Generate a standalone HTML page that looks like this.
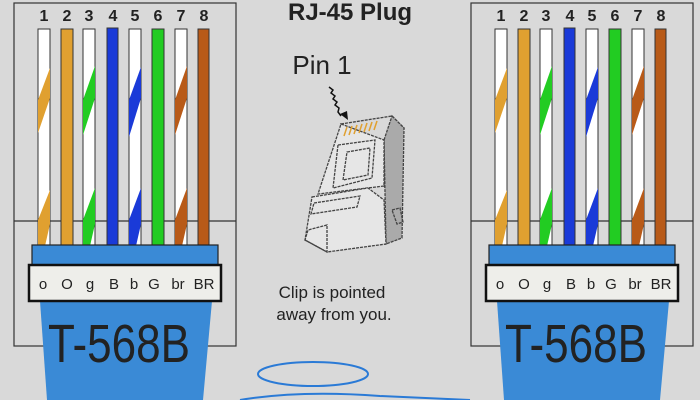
<!DOCTYPE html>
<html><head><meta charset="utf-8"><style>
html,body{margin:0;padding:0;background:#d9d9d9;}
svg{display:block}
text{font-family:"Liberation Sans",sans-serif;fill:#222}
</style></head><body>
<svg width="700" height="400" viewBox="0 0 700 400" xmlns="http://www.w3.org/2000/svg">
<rect width="700" height="400" fill="#d9d9d9"/>
<defs>
<g id="panel">
  <rect x="14" y="3" width="222" height="343" fill="none" stroke="#333" stroke-width="1.2"/>
  <line x1="14" y1="221" x2="236" y2="221" stroke="#333" stroke-width="1.2"/>
  <g font-size="16" font-weight="bold" text-anchor="middle">
    <text x="44" y="21">1</text><text x="67" y="21">2</text><text x="89" y="21">3</text><text x="113" y="21">4</text>
    <text x="135" y="21">5</text><text x="158" y="21">6</text><text x="181" y="21">7</text><text x="204" y="21">8</text>
  </g>
  <g stroke="#333" stroke-width="1">
    <rect x="38" y="29" width="12" height="218" fill="#fff"/>
    <rect x="61" y="29" width="12" height="218" fill="#e0a030"/>
    <rect x="83" y="29" width="12" height="218" fill="#fff"/>
    <rect x="107" y="28" width="11" height="219" fill="#1a3ad8"/>
    <rect x="129" y="29" width="12" height="218" fill="#fff"/>
    <rect x="152" y="29" width="12" height="218" fill="#22cc22"/>
    <rect x="175" y="29" width="12" height="218" fill="#fff"/>
    <rect x="198" y="29" width="11" height="218" fill="#b85a18"/>
  </g>
  <g>
    <polygon points="38,100 38,133 50,98 50,68" fill="#e0a030"/>
    <polygon points="38,220 38,246 45,246 50,224 50,190" fill="#e0a030"/>
    <polygon points="83,100 83,135 95,98 95,66" fill="#22cc22"/>
    <polygon points="83,220 83,246 90,246 95,224 95,188" fill="#22cc22"/>
    <polygon points="129,100 129,137 141,98 141,67" fill="#1a3ad8"/>
    <polygon points="129,220 129,246 136,246 141,224 141,188" fill="#1a3ad8"/>
    <polygon points="175,100 175,135 187,98 187,66" fill="#b85a18"/>
    <polygon points="175,220 175,246 182,246 187,224 187,188" fill="#b85a18"/>
  </g>
  <rect x="32" y="245" width="186" height="20" fill="#3a8ad6" stroke="#222" stroke-width="1.2"/>
  <polygon points="40,301 212,301 203,400 47,400" fill="#3a8ad6"/>
  <rect x="29" y="265" width="192" height="36" fill="#eeeeea" stroke="#111" stroke-width="2.5"/>
  <g font-size="15" text-anchor="middle">
    <text x="43" y="289" fill="#555">o</text><text x="67" y="289" fill="#555">O</text><text x="90" y="289" fill="#555">g</text>
    <text x="114" y="289" fill="#555">B</text><text x="134" y="289" fill="#555">b</text><text x="154" y="289" fill="#555">G</text>
    <text x="178" y="289" fill="#555">br</text><text x="204" y="289" fill="#555">BR</text>
  </g>
  <text x="48" y="362" font-size="54" fill="#111" textLength="142" lengthAdjust="spacingAndGlyphs">T-568B</text>
</g>
</defs>
<use href="#panel"/>
<use href="#panel" transform="translate(457,0)"/>
<text x="350" y="20" font-size="24" font-weight="bold" text-anchor="middle">RJ-45 Plug</text>
<text x="322" y="74" font-size="26" text-anchor="middle">Pin 1</text>
<path d="M329 87 l4 3 -2 3 4 3 -2 3 4 3 -2 3 4 3 -1 4 3 4" fill="none" stroke="#111" stroke-width="1.5"/>
<polygon points="340,114 348,120 347,111" fill="#111"/>
<g fill="none" stroke="#444" stroke-width="1.3" stroke-dasharray="3,1">
  <polygon points="341,124 392,116 404,128 384,140 384,186"/>
  <polygon points="392,116 404,128 402,238 386,244 384,140" fill="#aaa"/>
  <polygon points="341,124 384,140 384,186 318,194" fill="#e6e6e6"/>
  <polygon points="338,145 375,140 372,178 333,188"/>
  <polygon points="347,152 370,148 368,175 343,180"/>
  <polygon points="312,197 368,188 384,200 386,244 327,252 305,240" fill="#e6e6e6"/>
  <polygon points="314,203 360,196 357,207 311,214"/>
  <polygon points="305,240 327,252 327,225 308,230"/>
  <polygon points="392,210 400,208 403,222 397,224"/>
</g>
<g stroke="#e0a030" stroke-width="1.5">
  <line x1="344" y1="136" x2="347" y2="127"/><line x1="349" y1="135" x2="352" y2="126"/>
  <line x1="354" y1="134" x2="357" y2="125"/><line x1="359" y1="133" x2="362" y2="124"/>
  <line x1="364" y1="132" x2="367" y2="123"/><line x1="369" y1="131" x2="372" y2="122"/>
  <line x1="374" y1="130" x2="377" y2="121"/>
</g>
<text x="332" y="298" font-size="17" text-anchor="middle">Clip is pointed</text>
<text x="334" y="320" font-size="17" text-anchor="middle">away from you.</text>
<ellipse cx="313" cy="374" rx="55" ry="12" fill="none" stroke="#2a7ad6" stroke-width="2"/>
<path d="M240 400 Q300 390 380 396 L470 400" fill="none" stroke="#2a7ad6" stroke-width="2"/>
</svg>
</body></html>
